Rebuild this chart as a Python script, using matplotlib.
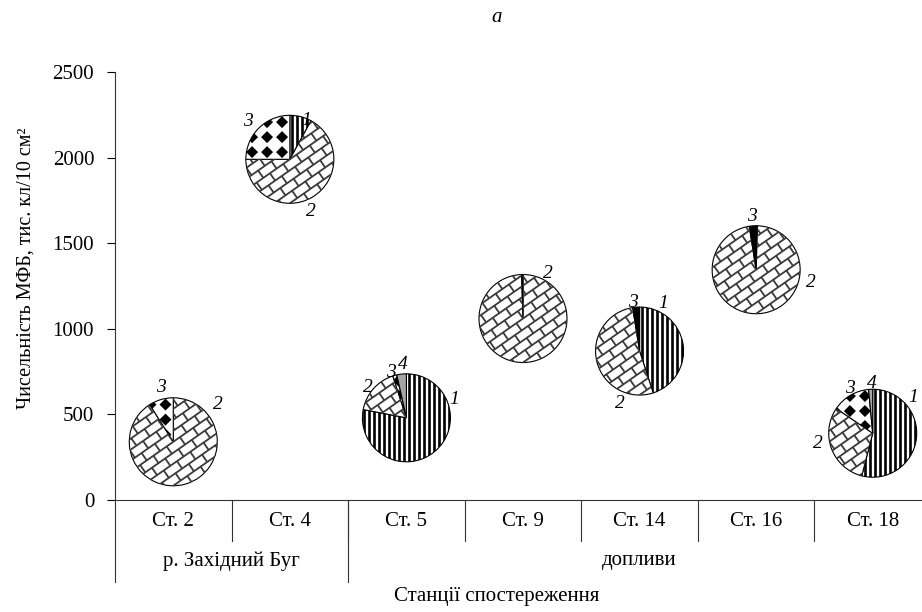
import numpy as np
import matplotlib
matplotlib.use("Agg")
import matplotlib.pyplot as plt
from matplotlib.patches import Wedge, Polygon
from matplotlib.collections import LineCollection, PatchCollection

stations = ["Ст. 2", "Ст. 4", "Ст. 5", "Ст. 9", "Ст. 14", "Ст. 16", "Ст. 18"]
groups = ["р. Західний Буг", "допливи"]
group_sizes = [2, 5]
totals = [340, 1990, 480, 1060, 870, 1345, 390]
# shares of groups 1..4, %
share1 = [0, 8, 78, 0, 45, 0.5, 54]
share2 = [91, 67, 17, 99.5, 52.5, 97, 30.5]
share3 = [9, 25, 1.5, 0.5, 2.5, 2.5, 14]
share4 = [0, 0, 3.5, 0, 0, 0, 1.5]

# label placement, pixel offsets from pie centre (dx right, dy down)
label_offsets = [
    {3: (-12, -54), 2: (45, -37)},
    {1: (16, -39), 2: (21, 52), 3: (-42, -38)},
    {1: (48, -18), 2: (-39, -30), 3: (-16, -45), 4: (-4, -53)},
    {2: (25, -45)},
    {1: (24, -48), 2: (-20, 52), 3: (-7, -49)},
    {2: (55, 13), 3: (-4, -53)},
    {1: (40, -36), 2: (-55, 10), 3: (-23, -45), 4: (-1, -50)},
]
# pies where the thin group-3 wedge prints as solid black
dark_thin3 = [3, 4, 5]

plt.rcParams["font.family"] = ["Liberation Serif", "DejaVu Serif"]

W, H = 922, 612
R_PX = 44
fig = plt.figure(figsize=(W / 100, H / 100), dpi=100)
ax = fig.add_axes([115 / W, (H - 500) / H, 816 / W, 428 / H])
ax.set_xlim(-0.5, len(stations) - 0.5)
ax.set_ylim(0, 2500)
ax.set_yticks(np.arange(0, 2501, 500))
ax.set_xticks([])
ax.tick_params(axis="y", direction="out", length=6, width=0.8, pad=9, labelsize=15)
for s in ["top", "right"]:
    ax.spines[s].set_visible(False)
for s in ["left", "bottom"]:
    ax.spines[s].set_linewidth(0.8)
    ax.spines[s].set_color("#333333")

trans = ax.get_xaxis_transform()
row1 = -41 / 428
row2 = -82 / 428
for i in range(len(stations)):
    ax.text(i, -21 / 428, stations[i], transform=trans, ha="center", va="center", fontsize=15)
    if i > 0:
        ax.plot([i - 0.5, i - 0.5], [0, row1], transform=trans, color="#333333", lw=0.8, clip_on=False)

start = -0.5
for g, n in zip(groups, group_sizes):
    ax.plot([start, start], [0, row2], transform=trans, color="#333333", lw=0.8, clip_on=False)
    ax.text(start + n / 2, -61 / 428, g, transform=trans, ha="center", va="center", fontsize=15)
    start += n

fig.text(26 / W, 1 - 268 / H, "Чисельність МФБ, тис. кл/10 см²", rotation=90,
         ha="center", va="center", fontsize=14.5)
fig.text(497 / W, 1 - 597 / H, "Станції спостереження", ha="center", va="center", fontsize=15)
fig.text(497 / W, 1 - 17 / H, "а", ha="center", va="center", fontsize=15, style="italic")


def stripes(pax, clip):
    p = 5.0 / R_PX
    xs = np.arange(-1.2, 1.2, p)
    lc = LineCollection([[(x, -1.2), (x, 1.2)] for x in xs], colors="black", linewidths=1.9)
    pax.add_collection(lc)
    lc.set_clip_path(clip)


def bricks(pax, clip):
    s = 9.0 / R_PX
    L = 1.8 * s
    th = np.radians(35)
    c, sn = np.cos(th), np.sin(th)

    def rot(u, v):
        return (u * c - v * sn, u * sn + v * c)

    segs = []
    n = int(1.6 / s) + 2
    for k in range(-n, n):
        v = k * s
        segs.append([rot(-1.6, v), rot(1.6, v)])
        off = (k % 2) * L / 2
        for j in range(-n - 2, n + 2):
            u = j * L + off
            segs.append([rot(u, v), rot(u, v + s)])
    lc = LineCollection(segs, colors="#3a3a3a", linewidths=1.3)
    pax.add_collection(lc)
    lc.set_clip_path(clip)


def diamonds(pax, clip):
    g = 15 / R_PX
    d = 6 / R_PX
    polys = []
    for x in np.arange(-1.2, 1.2, g):
        for y in np.arange(-1.2, 1.2, g):
            polys.append(Polygon([(x - d, y), (x, y + d), (x + d, y), (x, y - d)]))
    pc = PatchCollection(polys, facecolor="black", edgecolor="none")
    pax.add_collection(pc)
    pc.set_clip_path(clip)


def draw_pie(idx, cx, cy, shares, offsets):
    box = 2 * R_PX + 10
    pax = fig.add_axes([(cx - box / 2) / W, (cy - box / 2) / H, box / W, box / H])
    lim = box / 2 / R_PX
    pax.set_xlim(-lim, lim)
    pax.set_ylim(-lim, lim)
    pax.axis("off")
    a = 0.0
    for comp, sh in enumerate(shares, start=1):
        if sh <= 0:
            continue
        a2 = a + sh / 100 * 360
        face = "white"
        if comp == 4:
            face = "#a6a6a6"
        dark = comp == 3 and idx in dark_thin3
        if dark:
            face = "black"
        w = Wedge((0, 0), 1, 90 - a2, 90 - a, facecolor=face, edgecolor="none")
        pax.add_patch(w)
        if comp == 1:
            stripes(pax, w)
        elif comp == 2:
            bricks(pax, w)
        elif comp == 3 and not dark:
            diamonds(pax, w)
        pax.add_patch(Wedge((0, 0), 1, 90 - a2, 90 - a, facecolor="none",
                            edgecolor="black", lw=0.8))
        a = a2
    for comp, (dx, dy) in offsets.items():
        fig.text((cx + dx) / W, (cy - dy) / H, str(comp), ha="center", va="center",
                 fontsize=14, style="italic")


for i in range(len(stations)):
    cx, cy = ax.transData.transform((i, totals[i]))
    shares = [share1[i], share2[i], share3[i], share4[i]]
    draw_pie(i, cx, cy, shares, label_offsets[i])

fig.savefig("out.png", dpi=100)
